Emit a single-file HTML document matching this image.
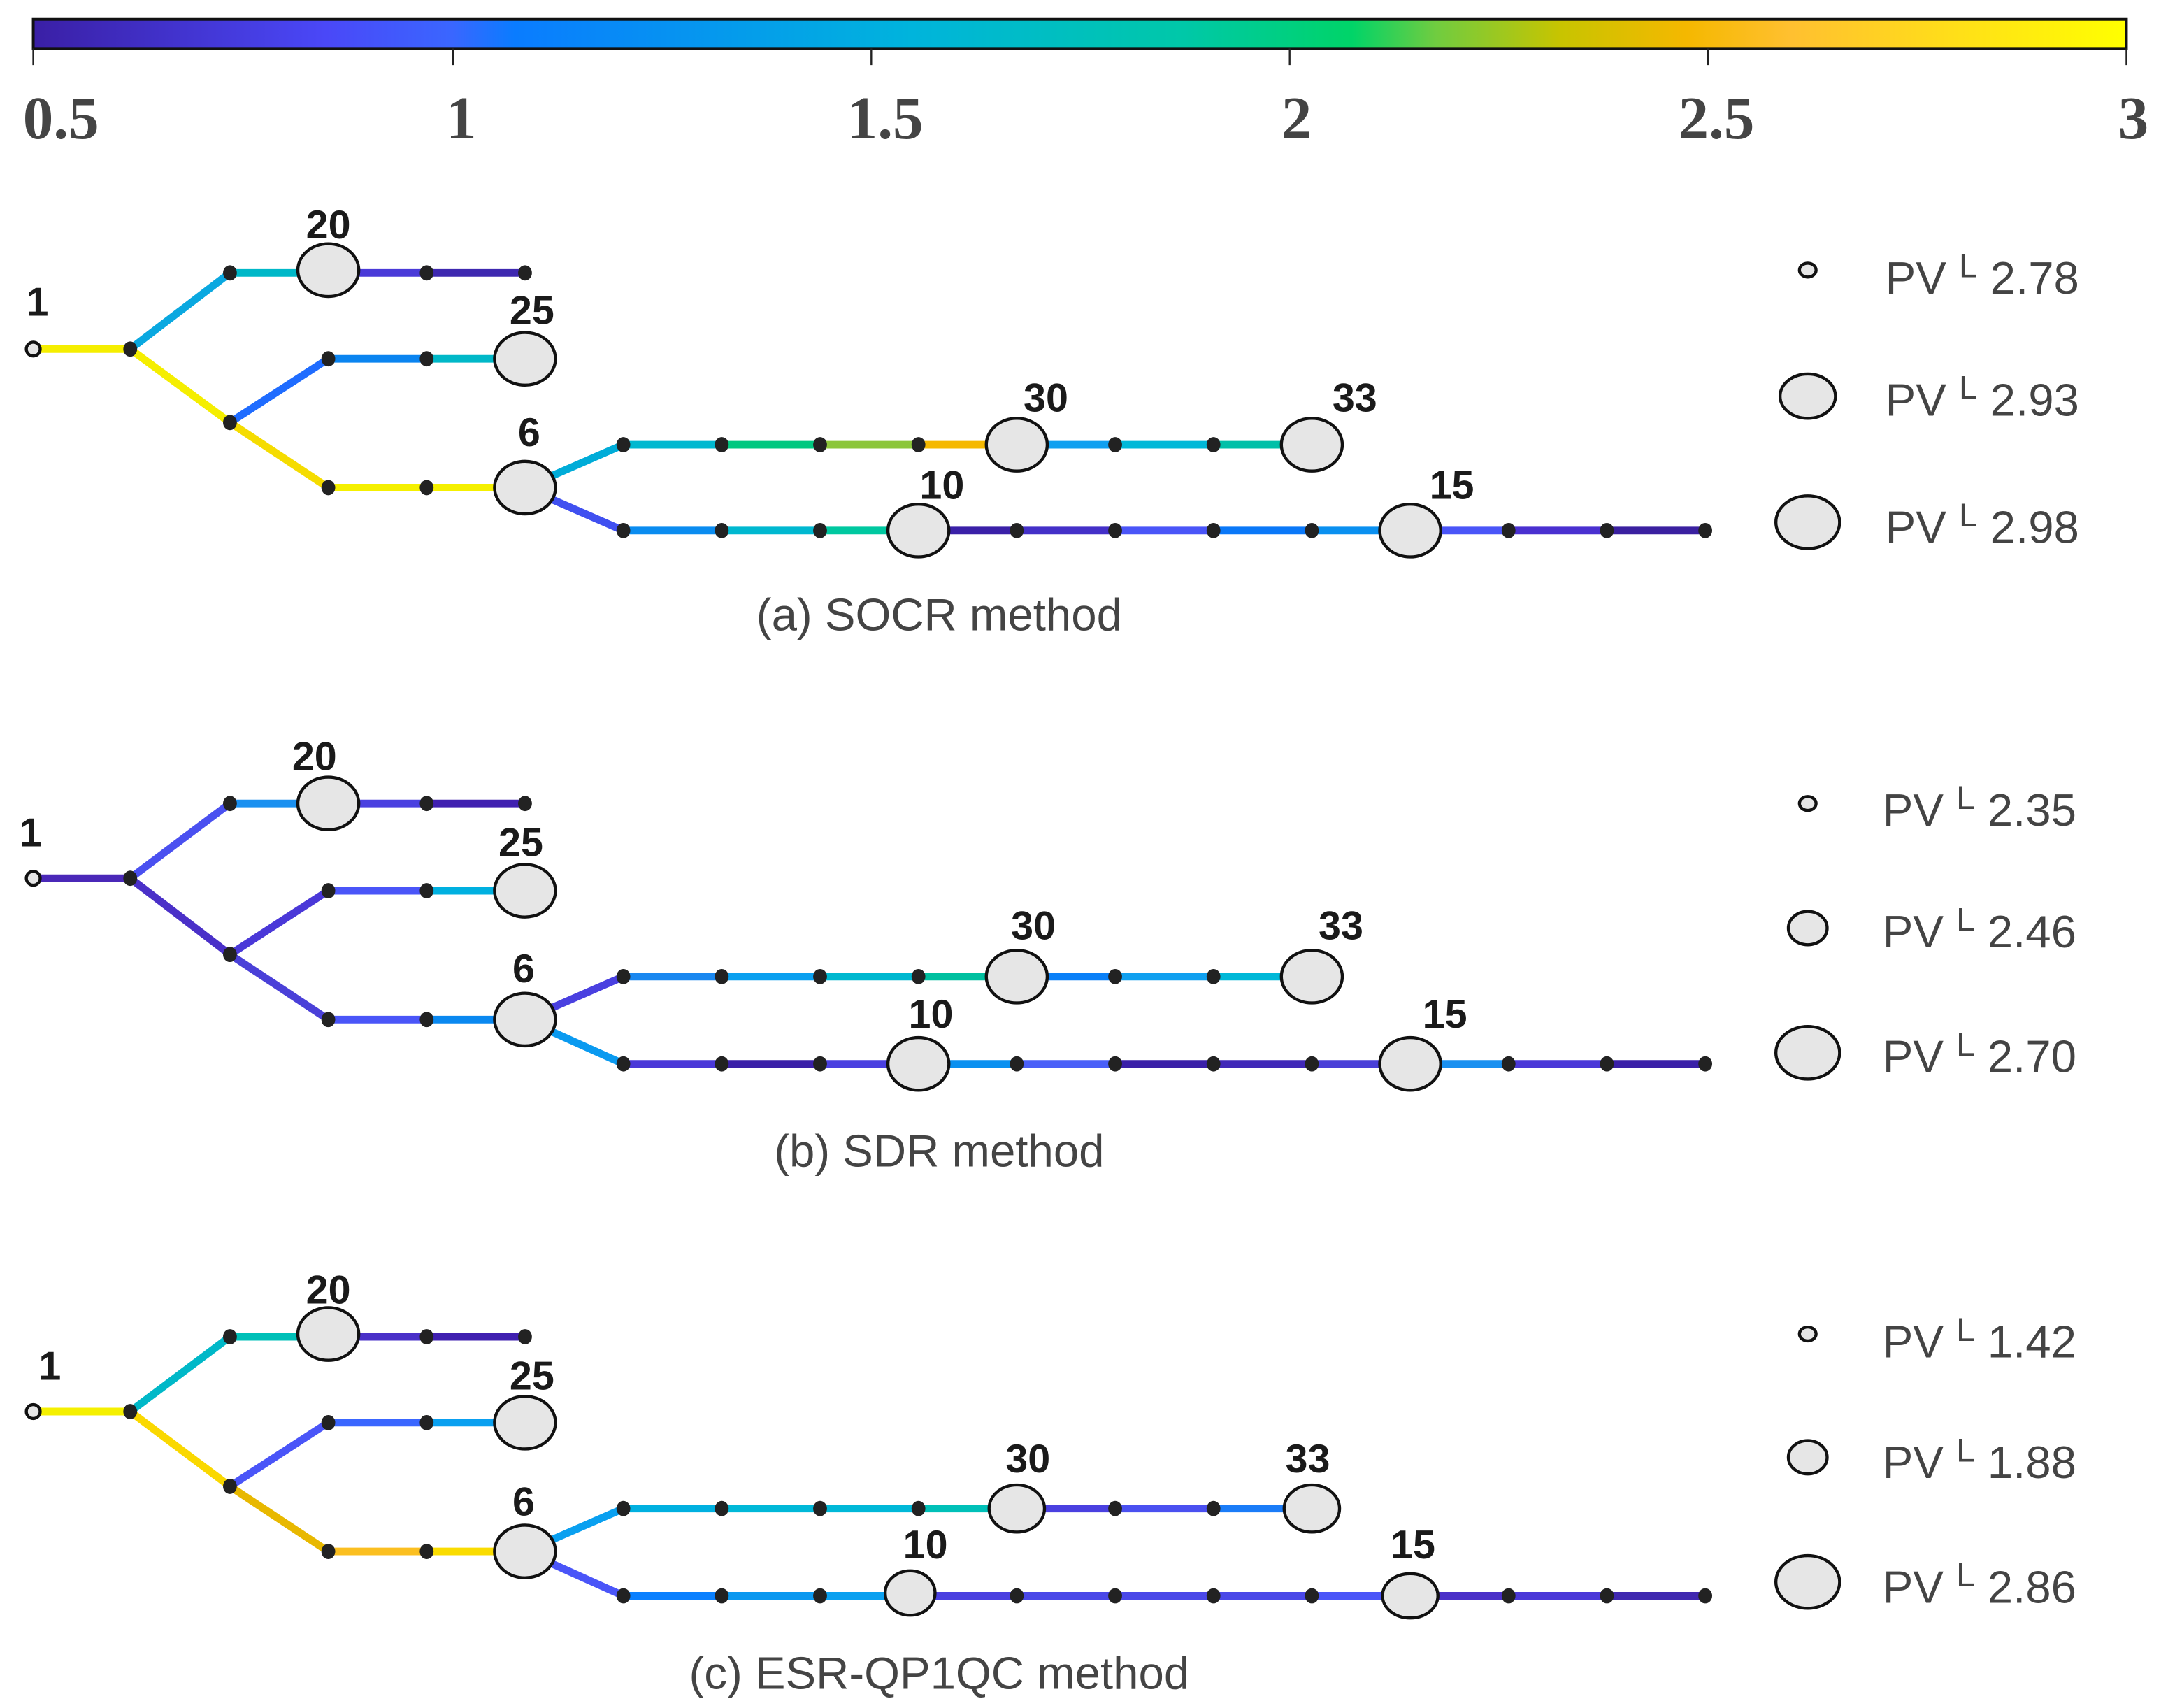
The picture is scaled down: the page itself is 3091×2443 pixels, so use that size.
<!DOCTYPE html>
<html><head><meta charset="utf-8"><style>html,body{margin:0;padding:0;background:#fff}svg{display:block}</style></head>
<body>
<svg width="3091" height="2443" viewBox="0 0 1560 1233" preserveAspectRatio="none" xmlns="http://www.w3.org/2000/svg">
<defs>
<linearGradient id="cb" x1="0" x2="1" y1="0" y2="0">
<stop offset="0" stop-color="#3a1fa5"/><stop offset="0.14" stop-color="#4a48f8"/><stop offset="0.2" stop-color="#3a66ff"/><stop offset="0.23" stop-color="#0a7cff"/><stop offset="0.42" stop-color="#00b4dc"/><stop offset="0.55" stop-color="#00c8a8"/><stop offset="0.63" stop-color="#00d468"/><stop offset="0.67" stop-color="#70cc40"/><stop offset="0.73" stop-color="#c8c400"/><stop offset="0.79" stop-color="#f5b800"/><stop offset="0.84" stop-color="#ffc030"/><stop offset="1" stop-color="#ffff00"/>
</linearGradient>
</defs>
<rect x="24" y="14" width="1511" height="21" fill="url(#cb)" stroke="#111" stroke-width="2"/>
<g stroke="#222" stroke-width="1.2">
<line x1="24" y1="35" x2="24" y2="47"/><line x1="327" y1="35" x2="327" y2="47"/><line x1="629" y1="35" x2="629" y2="47"/><line x1="931" y1="35" x2="931" y2="47"/><line x1="1233" y1="35" x2="1233" y2="47"/><line x1="1535" y1="35" x2="1535" y2="47"/>
</g>
<g font-family="'Liberation Serif',serif" font-weight="bold" font-size="44" fill="#444" text-anchor="middle">
<text x="44" y="100">0.5</text><text x="333" y="100">1</text><text x="639" y="100">1.5</text><text x="936" y="100">2</text><text x="1239" y="100">2.5</text><text x="1540" y="100">3</text>
</g>

<g stroke-width="5.5" fill="none">
<!-- panel a -->
<line x1="24" y1="252" x2="94" y2="252" stroke="#f5ee00"/>
<line x1="94" y1="252" x2="166" y2="197" stroke="#0aa8e0"/>
<line x1="166" y1="197" x2="237" y2="197" stroke="#00b8c8"/>
<line x1="237" y1="197" x2="308" y2="197" stroke="#4a3ad8"/>
<line x1="308" y1="197" x2="379" y2="197" stroke="#3e28b0"/>
<line x1="94" y1="252" x2="166" y2="305" stroke="#f5ee00"/>
<line x1="166" y1="305" x2="237" y2="259" stroke="#1f6cff"/>
<line x1="237" y1="259" x2="308" y2="259" stroke="#0a84f0"/>
<line x1="308" y1="259" x2="379" y2="259" stroke="#00b8c8"/>
<line x1="166" y1="305" x2="237" y2="352" stroke="#f5dc00"/>
<line x1="237" y1="352" x2="379" y2="352" stroke="#f5f000"/>
<line x1="379" y1="352" x2="450" y2="321" stroke="#00acd8"/>
<line x1="450" y1="321" x2="521" y2="321" stroke="#00b8d0"/>
<line x1="521" y1="321" x2="592" y2="321" stroke="#00c880"/>
<line x1="592" y1="321" x2="663" y2="321" stroke="#8cc63a"/>
<line x1="663" y1="321" x2="734" y2="321" stroke="#f5b800"/>
<line x1="734" y1="321" x2="805" y2="321" stroke="#10a0f0"/>
<line x1="805" y1="321" x2="876" y2="321" stroke="#00b8d8"/>
<line x1="876" y1="321" x2="947" y2="321" stroke="#00c0a8"/>
<line x1="379" y1="352" x2="450" y2="383" stroke="#4050f0"/>
<line x1="450" y1="383" x2="521" y2="383" stroke="#0a8cf0"/>
<line x1="521" y1="383" x2="592" y2="383" stroke="#00b8d0"/>
<line x1="592" y1="383" x2="663" y2="383" stroke="#00c8a0"/>
<line x1="663" y1="383" x2="734" y2="383" stroke="#3a20a8"/>
<line x1="734" y1="383" x2="805" y2="383" stroke="#4430c8"/>
<line x1="805" y1="383" x2="876" y2="383" stroke="#4a55f8"/>
<line x1="876" y1="383" x2="947" y2="383" stroke="#0a78f8"/>
<line x1="947" y1="383" x2="1018" y2="383" stroke="#0a90f0"/>
<line x1="1018" y1="383" x2="1089" y2="383" stroke="#4a55f8"/>
<line x1="1089" y1="383" x2="1160" y2="383" stroke="#4a30d0"/>
<line x1="1160" y1="383" x2="1231" y2="383" stroke="#3a20a0"/>
<!-- panel b -->
<line x1="24" y1="634" x2="94" y2="634" stroke="#4a28b8"/>
<line x1="94" y1="634" x2="166" y2="580" stroke="#4a50f0"/>
<line x1="166" y1="580" x2="237" y2="580" stroke="#1a90f0"/>
<line x1="237" y1="580" x2="308" y2="580" stroke="#4a40e0"/>
<line x1="308" y1="580" x2="379" y2="580" stroke="#4020b0"/>
<line x1="94" y1="634" x2="166" y2="689" stroke="#4a30c8"/>
<line x1="166" y1="689" x2="237" y2="643" stroke="#4a38d8"/>
<line x1="237" y1="643" x2="308" y2="643" stroke="#4a55f8"/>
<line x1="308" y1="643" x2="379" y2="643" stroke="#00b0e0"/>
<line x1="166" y1="689" x2="237" y2="736" stroke="#4a40d8"/>
<line x1="237" y1="736" x2="308" y2="736" stroke="#4a55f8"/>
<line x1="308" y1="736" x2="379" y2="736" stroke="#0a88f0"/>
<line x1="379" y1="736" x2="450" y2="705" stroke="#4a40e0"/>
<line x1="450" y1="705" x2="521" y2="705" stroke="#1a88f0"/>
<line x1="521" y1="705" x2="592" y2="705" stroke="#0aa0f0"/>
<line x1="592" y1="705" x2="663" y2="705" stroke="#00b8d0"/>
<line x1="663" y1="705" x2="734" y2="705" stroke="#00c0a0"/>
<line x1="734" y1="705" x2="805" y2="705" stroke="#0a80f8"/>
<line x1="805" y1="705" x2="876" y2="705" stroke="#10a0f0"/>
<line x1="876" y1="705" x2="947" y2="705" stroke="#00b8d8"/>
<line x1="379" y1="736" x2="450" y2="768" stroke="#0a9af0"/>
<line x1="450" y1="768" x2="521" y2="768" stroke="#4a38d8"/>
<line x1="521" y1="768" x2="592" y2="768" stroke="#3a20a8"/>
<line x1="592" y1="768" x2="663" y2="768" stroke="#4a40e0"/>
<line x1="663" y1="768" x2="734" y2="768" stroke="#0a90f0"/>
<line x1="734" y1="768" x2="805" y2="768" stroke="#4a60f8"/>
<line x1="805" y1="768" x2="876" y2="768" stroke="#3a20a8"/>
<line x1="876" y1="768" x2="947" y2="768" stroke="#4028b8"/>
<line x1="947" y1="768" x2="1018" y2="768" stroke="#4a40d8"/>
<line x1="1018" y1="768" x2="1089" y2="768" stroke="#1a90f0"/>
<line x1="1089" y1="768" x2="1160" y2="768" stroke="#4a38d8"/>
<line x1="1160" y1="768" x2="1231" y2="768" stroke="#3a20a8"/>
<!-- panel c -->
<line x1="24" y1="1019" x2="94" y2="1019" stroke="#f5f000"/>
<line x1="94" y1="1019" x2="166" y2="965" stroke="#00b8c8"/>
<line x1="166" y1="965" x2="237" y2="965" stroke="#00c0b8"/>
<line x1="237" y1="965" x2="308" y2="965" stroke="#4a30c8"/>
<line x1="308" y1="965" x2="379" y2="965" stroke="#4020b0"/>
<line x1="94" y1="1019" x2="166" y2="1073" stroke="#fad800"/>
<line x1="166" y1="1073" x2="237" y2="1027" stroke="#4a55f8"/>
<line x1="237" y1="1027" x2="308" y2="1027" stroke="#3a66ff"/>
<line x1="308" y1="1027" x2="379" y2="1027" stroke="#0aa0f0"/>
<line x1="166" y1="1073" x2="237" y2="1120" stroke="#e8b800"/>
<line x1="237" y1="1120" x2="308" y2="1120" stroke="#fbbf20"/>
<line x1="308" y1="1120" x2="379" y2="1120" stroke="#fadc00"/>
<line x1="379" y1="1120" x2="450" y2="1089" stroke="#0aa0f0"/>
<line x1="450" y1="1089" x2="521" y2="1089" stroke="#00b0e0"/>
<line x1="521" y1="1089" x2="663" y2="1089" stroke="#00b8d8"/>
<line x1="663" y1="1089" x2="734" y2="1089" stroke="#00c0b8"/>
<line x1="734" y1="1089" x2="805" y2="1089" stroke="#4a40e0"/>
<line x1="805" y1="1089" x2="876" y2="1089" stroke="#4a50f0"/>
<line x1="876" y1="1089" x2="947" y2="1089" stroke="#1a7cf8"/>
<line x1="379" y1="1120" x2="450" y2="1152" stroke="#4a55f8"/>
<line x1="450" y1="1152" x2="521" y2="1152" stroke="#0a80ff"/>
<line x1="521" y1="1152" x2="592" y2="1152" stroke="#0a98f0"/>
<line x1="592" y1="1152" x2="663" y2="1152" stroke="#0aa0f0"/>
<line x1="663" y1="1152" x2="734" y2="1152" stroke="#4a40e0"/>
<line x1="734" y1="1152" x2="947" y2="1152" stroke="#4a48e8"/>
<line x1="947" y1="1152" x2="1018" y2="1152" stroke="#4a55f8"/>
<line x1="1018" y1="1152" x2="1089" y2="1152" stroke="#4a30c8"/>
<line x1="1089" y1="1152" x2="1160" y2="1152" stroke="#4a38d8"/>
<line x1="1160" y1="1152" x2="1231" y2="1152" stroke="#4028b0"/>
</g>

<g fill="#222">
<!-- dots a -->
<ellipse cx="94" cy="252" rx="5" ry="5.5"/><ellipse cx="166" cy="197" rx="5" ry="5.5"/><ellipse cx="308" cy="197" rx="5" ry="5.5"/><ellipse cx="379" cy="197" rx="5" ry="5.5"/>
<ellipse cx="166" cy="305" rx="5" ry="5.5"/><ellipse cx="237" cy="259" rx="5" ry="5.5"/><ellipse cx="308" cy="259" rx="5" ry="5.5"/>
<ellipse cx="237" cy="352" rx="5" ry="5.5"/><ellipse cx="308" cy="352" rx="5" ry="5.5"/>
<ellipse cx="450" cy="321" rx="5" ry="5.5"/><ellipse cx="521" cy="321" rx="5" ry="5.5"/><ellipse cx="592" cy="321" rx="5" ry="5.5"/><ellipse cx="663" cy="321" rx="5" ry="5.5"/><ellipse cx="805" cy="321" rx="5" ry="5.5"/><ellipse cx="876" cy="321" rx="5" ry="5.5"/>
<ellipse cx="450" cy="383" rx="5" ry="5.5"/><ellipse cx="521" cy="383" rx="5" ry="5.5"/><ellipse cx="592" cy="383" rx="5" ry="5.5"/><ellipse cx="734" cy="383" rx="5" ry="5.5"/><ellipse cx="805" cy="383" rx="5" ry="5.5"/><ellipse cx="876" cy="383" rx="5" ry="5.5"/><ellipse cx="947" cy="383" rx="5" ry="5.5"/><ellipse cx="1089" cy="383" rx="5" ry="5.5"/><ellipse cx="1160" cy="383" rx="5" ry="5.5"/><ellipse cx="1231" cy="383" rx="5" ry="5.5"/>
<!-- dots b -->
<ellipse cx="94" cy="634" rx="5" ry="5.5"/><ellipse cx="166" cy="580" rx="5" ry="5.5"/><ellipse cx="308" cy="580" rx="5" ry="5.5"/><ellipse cx="379" cy="580" rx="5" ry="5.5"/>
<ellipse cx="166" cy="689" rx="5" ry="5.5"/><ellipse cx="237" cy="643" rx="5" ry="5.5"/><ellipse cx="308" cy="643" rx="5" ry="5.5"/>
<ellipse cx="237" cy="736" rx="5" ry="5.5"/><ellipse cx="308" cy="736" rx="5" ry="5.5"/>
<ellipse cx="450" cy="705" rx="5" ry="5.5"/><ellipse cx="521" cy="705" rx="5" ry="5.5"/><ellipse cx="592" cy="705" rx="5" ry="5.5"/><ellipse cx="663" cy="705" rx="5" ry="5.5"/><ellipse cx="805" cy="705" rx="5" ry="5.5"/><ellipse cx="876" cy="705" rx="5" ry="5.5"/>
<ellipse cx="450" cy="768" rx="5" ry="5.5"/><ellipse cx="521" cy="768" rx="5" ry="5.5"/><ellipse cx="592" cy="768" rx="5" ry="5.5"/><ellipse cx="734" cy="768" rx="5" ry="5.5"/><ellipse cx="805" cy="768" rx="5" ry="5.5"/><ellipse cx="876" cy="768" rx="5" ry="5.5"/><ellipse cx="947" cy="768" rx="5" ry="5.5"/><ellipse cx="1089" cy="768" rx="5" ry="5.5"/><ellipse cx="1160" cy="768" rx="5" ry="5.5"/><ellipse cx="1231" cy="768" rx="5" ry="5.5"/>
<!-- dots c -->
<ellipse cx="94" cy="1019" rx="5" ry="5.5"/><ellipse cx="166" cy="965" rx="5" ry="5.5"/><ellipse cx="308" cy="965" rx="5" ry="5.5"/><ellipse cx="379" cy="965" rx="5" ry="5.5"/>
<ellipse cx="166" cy="1073" rx="5" ry="5.5"/><ellipse cx="237" cy="1027" rx="5" ry="5.5"/><ellipse cx="308" cy="1027" rx="5" ry="5.5"/>
<ellipse cx="237" cy="1120" rx="5" ry="5.5"/><ellipse cx="308" cy="1120" rx="5" ry="5.5"/>
<ellipse cx="450" cy="1089" rx="5" ry="5.5"/><ellipse cx="521" cy="1089" rx="5" ry="5.5"/><ellipse cx="592" cy="1089" rx="5" ry="5.5"/><ellipse cx="663" cy="1089" rx="5" ry="5.5"/><ellipse cx="805" cy="1089" rx="5" ry="5.5"/><ellipse cx="876" cy="1089" rx="5" ry="5.5"/>
<ellipse cx="450" cy="1152" rx="5" ry="5.5"/><ellipse cx="521" cy="1152" rx="5" ry="5.5"/><ellipse cx="592" cy="1152" rx="5" ry="5.5"/><ellipse cx="734" cy="1152" rx="5" ry="5.5"/><ellipse cx="805" cy="1152" rx="5" ry="5.5"/><ellipse cx="876" cy="1152" rx="5" ry="5.5"/><ellipse cx="947" cy="1152" rx="5" ry="5.5"/><ellipse cx="1089" cy="1152" rx="5" ry="5.5"/><ellipse cx="1160" cy="1152" rx="5" ry="5.5"/><ellipse cx="1231" cy="1152" rx="5" ry="5.5"/>
</g>

<g fill="#e6e6e6" stroke="#111" stroke-width="2.2">
<!-- a -->
<ellipse cx="24" cy="252" rx="5" ry="5"/>
<ellipse cx="237" cy="195" rx="22" ry="19"/><ellipse cx="379" cy="259" rx="22" ry="19"/><ellipse cx="379" cy="352" rx="22" ry="19"/>
<ellipse cx="734" cy="321" rx="22" ry="19"/><ellipse cx="947" cy="321" rx="22" ry="19"/><ellipse cx="663" cy="383" rx="22" ry="19"/><ellipse cx="1018" cy="383" rx="22" ry="19"/>
<ellipse cx="1305" cy="195" rx="6" ry="5"/><ellipse cx="1305" cy="286" rx="20" ry="16"/><ellipse cx="1305" cy="377" rx="23" ry="19"/>
<!-- b -->
<ellipse cx="24" cy="634" rx="5" ry="5"/>
<ellipse cx="237" cy="580" rx="22" ry="19"/><ellipse cx="379" cy="643" rx="22" ry="19"/><ellipse cx="379" cy="736" rx="22" ry="19"/>
<ellipse cx="734" cy="705" rx="22" ry="19"/><ellipse cx="947" cy="705" rx="22" ry="19"/><ellipse cx="663" cy="768" rx="22" ry="19"/><ellipse cx="1018" cy="768" rx="22" ry="19"/>
<ellipse cx="1305" cy="580" rx="6" ry="5"/><ellipse cx="1305" cy="670" rx="14" ry="12"/><ellipse cx="1305" cy="760" rx="23" ry="19"/>
<!-- c -->
<ellipse cx="24" cy="1019" rx="5" ry="5"/>
<ellipse cx="237" cy="963" rx="22" ry="19"/><ellipse cx="379" cy="1027" rx="22" ry="19"/><ellipse cx="379" cy="1120" rx="22" ry="19"/>
<ellipse cx="734" cy="1089" rx="20" ry="17"/><ellipse cx="947" cy="1089" rx="20" ry="17"/><ellipse cx="657" cy="1150" rx="18" ry="16"/><ellipse cx="1018" cy="1152" rx="20" ry="16"/>
<ellipse cx="1305" cy="963" rx="6" ry="5"/><ellipse cx="1305" cy="1052" rx="14" ry="12"/><ellipse cx="1305" cy="1142" rx="23" ry="19"/>
</g>

<g font-family="'Liberation Sans',sans-serif" font-weight="bold" font-size="29" fill="#1a1a1a" text-anchor="middle">
<text x="27" y="228">1</text><text x="237" y="172">20</text><text x="384" y="234">25</text><text x="382" y="322">6</text><text x="755" y="297">30</text><text x="978" y="297">33</text><text x="680" y="360">10</text><text x="1048" y="360">15</text>
<text x="22" y="611">1</text><text x="227" y="556">20</text><text x="376" y="618">25</text><text x="378" y="709">6</text><text x="746" y="678">30</text><text x="968" y="678">33</text><text x="672" y="742">10</text><text x="1043" y="742">15</text>
<text x="36" y="996">1</text><text x="237" y="941">20</text><text x="384" y="1003">25</text><text x="378" y="1094">6</text><text x="742" y="1063">30</text><text x="944" y="1063">33</text><text x="668" y="1125">10</text><text x="1020" y="1125">15</text>
</g>

<g font-family="'Liberation Sans',sans-serif" font-size="33" fill="#444" text-anchor="middle">
<text x="678" y="455">(a) SOCR method</text>
<text x="678" y="842">(b) SDR method</text>
<text x="678" y="1219">(c) ESR-QP1QC method</text>
</g>

<g font-family="'Liberation Sans',sans-serif" font-size="33" fill="#444">
<text x="1361" y="212">PV <tspan font-size="24" dy="-12">L</tspan><tspan dy="12"> 2.78</tspan></text>
<text x="1361" y="300">PV <tspan font-size="24" dy="-12">L</tspan><tspan dy="12"> 2.93</tspan></text>
<text x="1361" y="392">PV <tspan font-size="24" dy="-12">L</tspan><tspan dy="12"> 2.98</tspan></text>
<text x="1359" y="596">PV <tspan font-size="24" dy="-12">L</tspan><tspan dy="12"> 2.35</tspan></text>
<text x="1359" y="684">PV <tspan font-size="24" dy="-12">L</tspan><tspan dy="12"> 2.46</tspan></text>
<text x="1359" y="774">PV <tspan font-size="24" dy="-12">L</tspan><tspan dy="12"> 2.70</tspan></text>
<text x="1359" y="980">PV <tspan font-size="24" dy="-12">L</tspan><tspan dy="12"> 1.42</tspan></text>
<text x="1359" y="1067">PV <tspan font-size="24" dy="-12">L</tspan><tspan dy="12"> 1.88</tspan></text>
<text x="1359" y="1157">PV <tspan font-size="24" dy="-12">L</tspan><tspan dy="12"> 2.86</tspan></text>
</g>
</svg>
</body></html>
